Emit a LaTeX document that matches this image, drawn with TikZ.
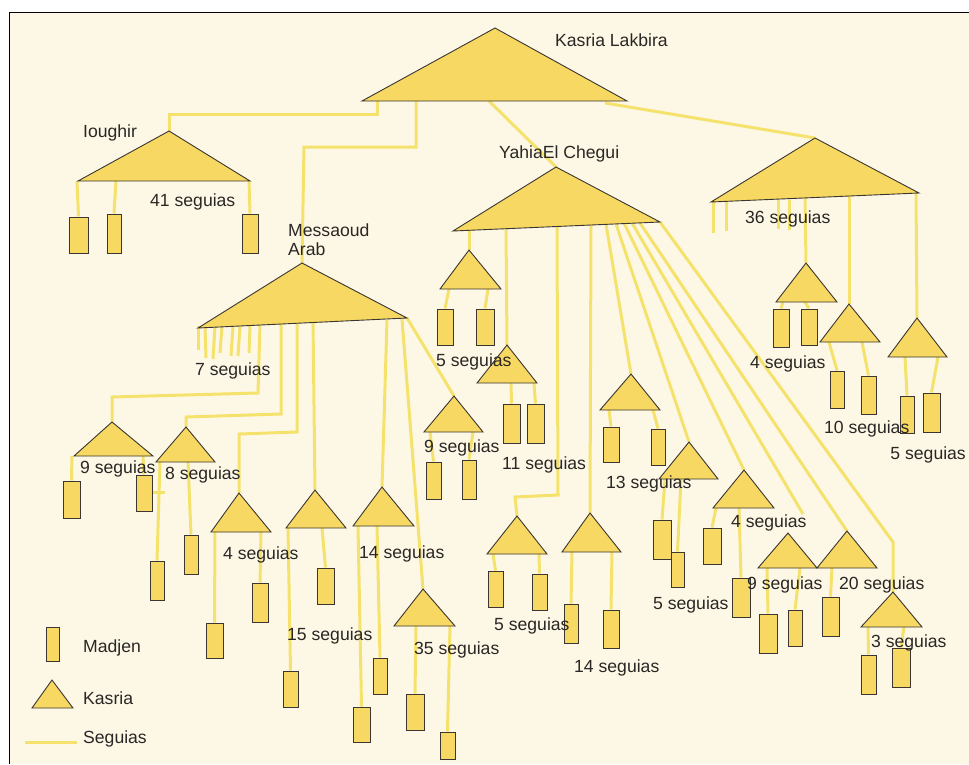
\documentclass[tikz,border=0pt]{standalone}
\usepackage{fontspec}
\setmainfont{Liberation Sans}
\usetikzlibrary{positioning}
\definecolor{paper}{HTML}{FDF8E6}
\definecolor{kasriafill}{HTML}{F6D862}
\definecolor{seguiacol}{HTML}{F5E26C}
\definecolor{outline}{HTML}{3B3631}
\definecolor{labeltext}{HTML}{2A2624}
\pgfdeclarelayer{back}
\pgfdeclarelayer{canals}
\pgfsetlayers{back,canals,main}
\tikzset{
  kasria/.style={fill=kasriafill, draw=outline, line width=0.9pt, line join=miter},
  madjen/.style={rectangle, fill=kasriafill, draw=outline, line width=1pt, inner sep=0pt},
  seguia/.style={draw=seguiacol, line width=3pt},
  lbl/.style={anchor=west, inner sep=0pt, text=labeltext, font=\fontsize{17.6}{19}\selectfont}
}
\newcommand{\kasria}[4]{\filldraw[kasria] #2 coordinate (#1-t) -- #3 coordinate (#1-l) -- #4 coordinate (#1-r) -- cycle;}
\newcommand{\madjen}[5]{\node[madjen, minimum width=#4pt, minimum height=#5pt] (#1) at (#2,#3) {};}

\begin{document}
\begin{tikzpicture}[x=1pt, y=-1pt]
  \useasboundingbox (0,0) rectangle (969,764);
  \begin{pgfonlayer}{back}
    \fill[white] (0,0) rectangle (969,764);
    \fill[paper] (9,12) rectangle (969,764);
    \draw[black, line width=1pt] (9,764) -- (9,12) -- (969,12);
  \end{pgfonlayer}

  % kasrias
  \kasria{lak}{(495,28)}{(362,101)}{(627,101)}
  \kasria{iou}{(169,131)}{(78,181)}{(250,181)}
  \kasria{mes}{(302,263)}{(198,328)}{(407,318)}
  \kasria{yah}{(556,167)}{(453,231)}{(660,222)}
  \kasria{sei}{(815,138)}{(711,202)}{(919,193)}
  \kasria{r1}{(806,263)}{(776,302)}{(837,302)}
  \kasria{r2}{(849,304)}{(820,342)}{(880,342)}
  \kasria{r3}{(917,318)}{(888,357)}{(947,357)}
  \kasria{m1}{(112,422)}{(74,456)}{(153,456)}
  \kasria{m2}{(186,427)}{(156,462)}{(215,462)}
  \kasria{m3}{(239,493)}{(211,532)}{(271,532)}
  \kasria{m4}{(315,490)}{(286,528)}{(346,528)}
  \kasria{m5}{(382,487)}{(353,526)}{(414,526)}
  \kasria{m6}{(454,396)}{(424,432)}{(483,432)}
  \kasria{m7}{(423,589)}{(394,626)}{(455,626)}
  \kasria{y1}{(469,250)}{(440,289)}{(501,289)}
  \kasria{y2}{(507,345)}{(477,383)}{(537,383)}
  \kasria{y3}{(517,516)}{(487,554)}{(547,554)}
  \kasria{y4}{(590,513)}{(562,552)}{(621,552)}
  \kasria{y5}{(631,374)}{(600,410)}{(660,410)}
  \kasria{y6}{(689,442)}{(659,479)}{(718,479)}
  \kasria{y7}{(744,470)}{(713,508)}{(774,508)}
  \kasria{y8}{(788,533)}{(758,568)}{(817,568)}
  \kasria{y9}{(847,531)}{(817,568)}{(877,568)}
  \kasria{y10}{(893,592)}{(861,627)}{(922,627)}
  \kasria{key}{(52,680)}{(32,708)}{(73,708)}

  % madjens
  \madjen{io1}{78.5}{235}{19}{36}
  \madjen{io2}{114}{233.5}{14}{39}
  \madjen{io3}{250}{233.5}{16}{39}
  \madjen{r1a}{781}{328}{16}{38}
  \madjen{r1b}{809}{327}{16}{36}
  \madjen{r2a}{837}{389.5}{14}{37}
  \madjen{r2b}{868.5}{395}{15}{38}
  \madjen{r3a}{907}{414.5}{14}{37}
  \madjen{r3b}{931.5}{412.5}{17}{39}
  \madjen{m1a}{71.5}{499.5}{17}{37}
  \madjen{m1b}{144}{493}{16}{36}
  \madjen{m2a}{157}{580.5}{14}{39}
  \madjen{m2b}{191}{554.5}{14}{39}
  \madjen{m3a}{214.5}{640.5}{17}{35}
  \madjen{m3b}{260}{602.5}{16}{39}
  \madjen{m4a}{290.5}{689}{15}{36}
  \madjen{m4b}{325.5}{586}{17}{36}
  \madjen{m5a}{361.5}{724.5}{17}{35}
  \madjen{m5b}{380}{676}{14}{36}
  \madjen{m6a}{433.5}{480.5}{15}{37}
  \madjen{m6b}{469}{479.5}{14}{39}
  \madjen{m7a}{415}{712}{18}{36}
  \madjen{m7b}{447.5}{745.5}{15}{27}
  \madjen{y1a}{445}{327}{16}{36}
  \madjen{y1b}{485}{327}{18}{36}
  \madjen{y2a}{511.5}{423.5}{17}{39}
  \madjen{y2b}{535.5}{423.5}{17}{39}
  \madjen{y3a}{495.5}{589}{15}{36}
  \madjen{y3b}{539.5}{592}{15}{36}
  \madjen{y4a}{571}{623.5}{14}{39}
  \madjen{y4b}{611}{629}{16}{38}
  \madjen{y5a}{611}{444.5}{16}{35}
  \madjen{y5b}{658}{447}{14}{36}
  \madjen{y6a}{662}{539.5}{18}{39}
  \madjen{y6b}{677.5}{569.5}{13}{35}
  \madjen{y7a}{712}{546}{18}{36}
  \madjen{y7b}{741}{597.5}{18}{39}
  \madjen{y8a}{768}{633.5}{18}{39}
  \madjen{y8b}{795}{628}{14}{36}
  \madjen{y9a}{830.5}{616.5}{17}{39}
  \madjen{y10a}{868.5}{674.5}{15}{39}
  \madjen{y10b}{901}{667.5}{18}{39}
  \madjen{keym}{52.5}{644}{13}{34}

  % seguias
  \begin{pgfonlayer}{canals}
    \draw[seguia] (iou-t) -- (169,114) -| (377,101);
    \draw[seguia] (416,101) |- (304,147) -- (mes-t);
    \draw[seguia] (489,101) -- (yah-t);
    \draw[seguia] (605,103) -- (sei-t);

    \draw[seguia] (77,181) -- (io1.north);
    \draw[seguia] (116,181) -- (io2.north);
    \draw[seguia] (249,181) -- (io3.north);

    \foreach \xa/\xb/\yb in {713/713/233, 726/726/231, 778/778/229, 789/789/230}
      \draw[seguia] (\xa,200) -- (\xb,\yb);
    \draw[seguia] (805,197) -- (r1-t);
    \draw[seguia] (849,196) -- (r2-t);
    \draw[seguia] (916,194) -- (r3-t);
    \draw[seguia] (783,302) -- (r1a.north);
    \draw[seguia] (805,302) -- (r1b.north);
    \draw[seguia] (829,342) -- (r2a.north);
    \draw[seguia] (862,342) -- (r2b.north);
    \draw[seguia] (905,357) -- (r3a.north);
    \draw[seguia] (938,357) -- (r3b.north);

    \foreach \xa/\xb/\yb in {198/198/350, 205/206/358, 215/213/359, 222/220/353,
                             233/231/356, 240/238/356, 250/249/353}
      \draw[seguia] (\xa,326) -- (\xb,\yb);
    \draw[seguia] (260,325) -- (258,393) -- (112,397) -- (m1-t);
    \draw[seguia] (281,323) -- (281,414) -- (186,417) -- (m2-t);
    \draw[seguia] (297,322) -- (297,432) -- (239,434) -- (m3-t);
    \draw[seguia] (313,321) -- (m4-t);
    \draw[seguia] (387,320) -- (m5-t);
    \draw[seguia] (402,319) -- (m7-t);
    \draw[seguia] (mes-r) -- (m6-t);

    \draw[seguia] (72,456) -- (m1a.north);
    \draw[seguia] (143,456) -- (m1b.north);
    \draw[seguia] (152,492) -- (165,492);
    \draw[seguia] (160,462) -- (m2a.north);
    \draw[seguia] (188,462) -- (m2b.north);
    \draw[seguia] (215,532) -- (m3a.north);
    \draw[seguia] (261,532) -- (m3b.north);
    \draw[seguia] (288,528) -- (m4a.north);
    \draw[seguia] (322,528) -- (m4b.north);
    \draw[seguia] (358,526) -- (m5a.north);
    \draw[seguia] (377,526) -- (m5b.north);
    \draw[seguia] (416,626) -- (m7a.north);
    \draw[seguia] (450,626) -- (m7b.north);
    \draw[seguia] (430,432) -- (m6a.north);
    \draw[seguia] (473,432) -- (m6b.north);

    \draw[seguia] (469,230) -- (y1-t);
    \draw[seguia] (506,229) -- (y2-t);
    \draw[seguia] (557,226) -- (558,495) -- (515,497) -- (y3-t);
    \draw[seguia] (591,225) -- (y4-t);
    \draw[seguia] (606,224) -- (y5-t);
    \draw[seguia] (616,224) -- (y6-t);
    \draw[seguia] (624,223) -- (y7-t);
    \coordinate (y8-end) at (803,514);
    \draw[seguia] (632,223) -- (y8-end);
    \draw[seguia] (640,223) -- (y9-t);
    \draw[seguia] (yah-r) -- (893,542) -- (y10-t);

    \draw[seguia] (449,289) -- (y1a.north);
    \draw[seguia] (488,289) -- (y1b.north);
    \draw[seguia] (511,383) -- (y2a.north);
    \draw[seguia] (534,383) -- (y2b.north);
    \draw[seguia] (493,554) -- (y3a.north);
    \draw[seguia] (539,554) -- (y3b.north);
    \draw[seguia] (572,552) -- (y4a.north);
    \draw[seguia] (612,552) -- (y4b.north);
    \draw[seguia] (609,410) -- (y5a.north);
    \draw[seguia] (653,410) -- (y5b.north);
    \draw[seguia] (665,479) -- (y6a.north);
    \draw[seguia] (681,479) -- (y6b.north);
    \draw[seguia] (716,508) -- (y7a.north);
    \draw[seguia] (739,508) -- (y7b.north);
    \draw[seguia] (767,568) -- (y8a.north);
    \draw[seguia] (800,568) -- (y8b.north);
    \draw[seguia] (832,568) -- (y9a.north);
    \draw[seguia] (868,627) -- (y10a.north);
    \draw[seguia] (904,627) -- (y10b.north);

    \coordinate (keyl-a) at (25,742);
    \coordinate (keyl-b) at (77,742);
    \draw[seguia] (keyl-a) -- (keyl-b);
  \end{pgfonlayer}

  % labels
  \node[lbl] (lak-lbl) at (555,40) {Kasria Lakbira};
  \node[lbl] (iou-lbl) at (83,133) {Ioughir};
  \node[lbl] (yah-lbl) at (499,154) {YahiaEl Chegui};
  \node[lbl] (iou-n) at (150,202) {41 seguias};
  \node[lbl] (sei-n) at (745,219) {36 seguias};
  \node[lbl, align=left, anchor=north west] (mes-lbl) at (288,224) {Messaoud\\Arab};
  \node[lbl] (mes-n) at (195,371) {7 seguias};
  \node[lbl] (r1-n) at (750,364) {4 seguias};
  \node[lbl] (r2-n) at (824,429) {10 seguias};
  \node[lbl, anchor=east] (r3-n) at (966,455) {5 seguias};
  \node[lbl] (m1-n) at (80,469) {9 seguias};
  \node[lbl] (m2-n) at (165,475) {8 seguias};
  \node[lbl] (m3-n) at (223,555) {4 seguias};
  \node[lbl] (m4-n) at (287,636) {15 seguias};
  \node[lbl] (m5-n) at (359,554) {14 seguias};
  \node[lbl] (m7-n) at (414,650) {35 seguias};
  \node[lbl] (m6-n) at (424,448) {9 seguias};
  \node[lbl] (y1-n) at (436,362) {5 seguias};
  \node[lbl] (y2-n) at (502,465) {11 seguias};
  \node[lbl] (y3-n) at (494,626) {5 seguias};
  \node[lbl] (y4-n) at (574,668) {14 seguias};
  \node[lbl] (y5-n) at (606,484) {13 seguias};
  \node[lbl] (y6-n) at (653,605) {5 seguias};
  \node[lbl] (y7-n) at (731,523) {4 seguias};
  \node[lbl] (y8-n) at (747,585) {9 seguias};
  \node[lbl] (y9-n) at (839,585) {20 seguias};
  \node[lbl] (y10-n) at (871,643) {3 seguias};
  \node[lbl] (keym-lbl) at (83,648) {Madjen};
  \node[lbl] (key-lbl) at (83,698) {Kasria};
  \node[lbl] (keyl-lbl) at (83,739) {Seguias};
\end{tikzpicture}
\end{document}
